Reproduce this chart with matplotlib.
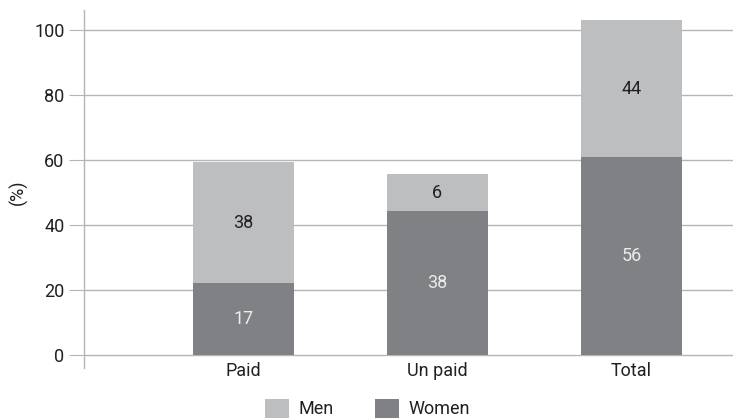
import matplotlib
matplotlib.use("Agg")
import matplotlib.pyplot as plt
from matplotlib.patches import Patch

categories = ["Paid", "Un paid", "Total"]
# segment heights as drawn in the picture
women_heights = [22.2, 44.4, 61.0]
men_heights = [37.2, 11.3, 42.1]
# printed labels
women_labels = ["17", "38", "56"]
men_labels = ["38", "6", "44"]
yticks = [0, 20, 40, 60, 80, 100]

plt.rcParams["font.family"] = ["Roboto", "DejaVu Sans"]

men_color = "#bdbec0"
women_color = "#808184"
grid_color = "#b4b5b8"
text_color = "#231f20"
fs = 13

fig = plt.figure(figsize=(7.35, 4.2), dpi=100)
ax = fig.add_axes([0.1143, 0.1238, 0.997 - 0.1143, 0.977 - 0.1238])

x = list(range(len(categories)))
w = 0.52
ax.bar(x, women_heights, width=w, color=women_color, zorder=3)
ax.bar(x, men_heights, width=w, bottom=women_heights, color=men_color, zorder=3)

for i in x:
    ax.text(i, women_heights[i] / 2, women_labels[i], ha="center", va="center",
            color="#ececec", fontsize=fs, zorder=4)
    ax.text(i, women_heights[i] + men_heights[i] / 2, men_labels[i], ha="center",
            va="center", color=text_color, fontsize=fs, zorder=4)

ax.set_xlim(-0.822, 2.523)
ax.set_ylim(-3.9, 106.3)
ax.set_yticks(yticks)
ax.set_xticks(x)
ax.set_xticklabels(categories)
ax.yaxis.grid(True, color=grid_color, linewidth=1.0, zorder=0)
ax.set_axisbelow(True)
for s in ["top", "right", "bottom"]:
    ax.spines[s].set_visible(False)
ax.spines["left"].set_color(grid_color)
ax.spines["left"].set_linewidth(1.0)
ax.tick_params(axis="y", length=11, color=grid_color, labelsize=fs, labelcolor=text_color, pad=3)
ax.tick_params(axis="x", length=0, labelsize=fs, labelcolor=text_color, pad=-4)
fig.text(18 / 735, 1 - 192 / 420, "(%)", rotation=90, ha="center", va="center",
         fontsize=fs, color=text_color)

handles = [Patch(facecolor=men_color, label="Men"), Patch(facecolor=women_color, label="Women")]
fig.legend(handles=handles, loc="lower center", bbox_to_anchor=(0.500, -0.035), ncol=2,
           frameon=False, fontsize=fs, handlelength=1.33, handleheight=1.22,
           handletextpad=0.5, columnspacing=2.3, labelcolor=text_color)

fig.savefig("out.png", dpi=100)
